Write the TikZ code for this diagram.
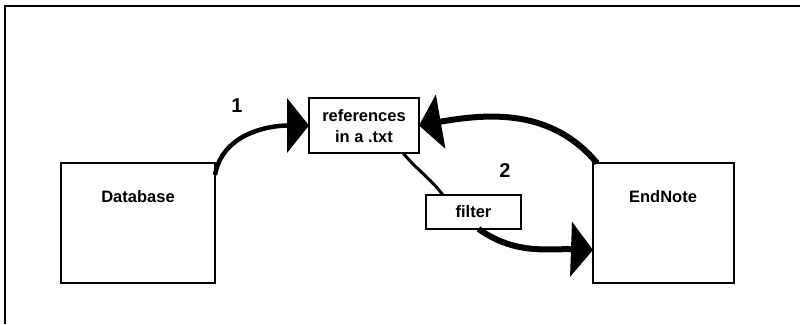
\documentclass[tikz,border=0pt]{standalone}
\usepackage{fontspec}
\setmainfont{Liberation Sans}
\usetikzlibrary{arrows.meta}
\begin{document}
\begin{tikzpicture}[x=1pt,y=-1pt,
  box/.style={draw, line width=2pt, minimum width=#1, inner sep=0pt, outer sep=0pt},
  lbl/.style={font=\bfseries\fontsize{16.5}{21}\selectfont, inner sep=0pt, align=center},
  num/.style={font=\bfseries\fontsize{20}{21}\selectfont, inner sep=0pt},
  bigarrow/.style={line width=6pt, -{Triangle[length=22pt,width=54pt]}}
]
\useasboundingbox (0,0) rectangle (800,324);
\draw[line width=2pt] (5,324) -- (5,6) -- (800,6);
% boxes
\node[box=154pt, minimum height=120pt] (db) at (138,223) {};
\node[box=141pt, minimum height=120pt] (en) at (663.5,223) {};
\node[box=110pt, minimum height=55pt] (ref) at (364,125.5) {};
\node[box=95pt, minimum height=34pt] (fil) at (473.5,212) {};
% texts
\node[lbl] (dbt) at (138,197) {Database};
\node[lbl] (ent) at (663,197) {EndNote};
\node[lbl] (reft) at (364,126) {references\\in a .txt};
\node[lbl] (filt) at (473.5,212) {filter};
\node[num] (n1) at (237,106) {1};
\node[num] (n2) at (505,171) {2};
% connectors
\coordinate (dbs) at ([yshift=-12pt]db.north east);
\draw[bigarrow, line width=4.5pt] (dbs) to[out=80,in=180] (ref.west);
\coordinate (ens) at ([xshift=4pt]en.north west);
\draw[bigarrow] (ens) to[out=130,in=10] (ref.east);
\coordinate (refb) at ([xshift=94pt]ref.south west);
\coordinate (filt2) at ([xshift=17pt]fil.north west);
\draw[line width=3pt] (refb) to[out=-50,in=128] (filt2);
\coordinate (filb) at ([xshift=5pt]fil.south);
\draw[bigarrow] (filb) to[out=-35,in=178] ([yshift=-27pt]en.west);
\end{tikzpicture}
\end{document}
